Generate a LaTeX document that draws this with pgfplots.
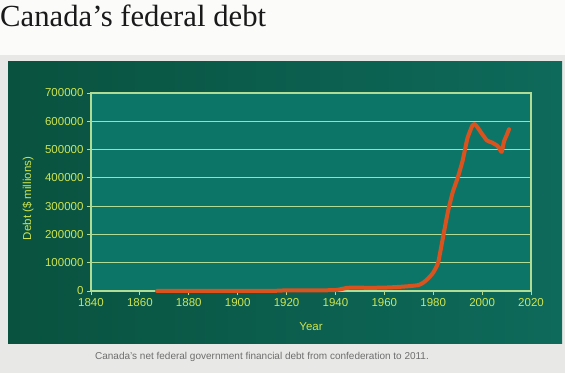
\documentclass[border=0pt]{standalone}
\usepackage{fontspec}
\setmainfont{Liberation Sans}
\newfontfamily\titlefont{Liberation Serif}
\usepackage{pgfplots}
\pgfplotsset{compat=1.18}
\definecolor{bgwhite}{HTML}{FBFBFA}
\definecolor{boxgray}{HTML}{E8E8E6}
\definecolor{paneldark}{HTML}{09523F}
\definecolor{panellight}{HTML}{0E6A5B}
\definecolor{plotfill}{HTML}{0D7568}
\definecolor{gridc}{HTML}{B0DC96}
\definecolor{labc}{HTML}{CFE550}
\definecolor{linec}{HTML}{DA521E}
\definecolor{capc}{HTML}{6E6E6E}
\begin{document}
\begin{tikzpicture}[x=1pt,y=1pt]
\fill[bgwhite] (0,0) rectangle (565,373);
\fill[boxgray] (0,0) rectangle (565,318);
\shade[left color=paneldark, right color=panellight] (8,30) rectangle (562,311);
\node[anchor=base west, font=\titlefont\fontsize{30.7}{32}\selectfont, text=black!90, inner sep=0] at (0,346.3) {Canada’s federal debt};
\node[anchor=center, font=\fontsize{10}{11}\selectfont, text=capc, inner sep=0] at (262,16) {Canada's net federal government financial debt from confederation to 2011.};
\begin{axis}[at={(91pt,82pt)}, anchor=south west, scale only axis,
  width=440pt, height=198pt,
  xmin=1840, xmax=2020, ymin=0, ymax=700000,
  xtick={1840,1860,1880,1900,1920,1940,1960,1980,2000,2020},
  xticklabels={1840,1860,1880,1900,1920,1940,1960,1980,2000,2020},
  ytick={0,100000,200000,300000,400000,500000,600000,700000},
  yticklabels={0,100000,200000,300000,400000,500000,600000,700000},
  axis background/.style={fill=plotfill},
  axis line style={gridc, line width=1.2pt},
  ymajorgrids, grid style={gridc, line width=1pt},
  tick style={gridc, line width=0.8pt},
  tick align=outside, major tick length=4pt,
  xtick pos=bottom, ytick pos=left,
  ticklabel style={labc, font=\fontsize{11.5}{13}\selectfont},
  scaled y ticks=false,
  xlabel={Year}, ylabel={Debt (\$ millions)},
  label style={labc, font=\fontsize{11.5}{13}\selectfont},
  xlabel style={at={(axis description cs:0.5,-0.182)}, anchor=center},
  ylabel style={at={(axis description cs:-0.143,0.467)}, anchor=center},
  clip=false]
\addplot[linec, line width=4pt, line join=round, line cap=round, smooth, tension=0.3] coordinates {
(1867,75) (1880,150) (1900,270) (1914,330) (1920,2300) (1930,2200) (1940,3300)
(1945,11300) (1950,11600) (1955,11300) (1960,12000) (1965,14000) (1970,17000)
(1974,21000) (1976,30000) (1978,45000) (1980,65000) (1982,100000) (1984,190000)
(1986,280000) (1988,350000) (1990,400000) (1992,460000) (1994,540000)
(1996,585000) (1997,590000) (1998,580000) (2000,555000) (2002,532000)
(2004,525000) (2006,515000) (2007,505000) (2008,492000) (2009,530000)
(2010,550000) (2011,572000)
};
\end{axis}
\end{tikzpicture}
\end{document}
